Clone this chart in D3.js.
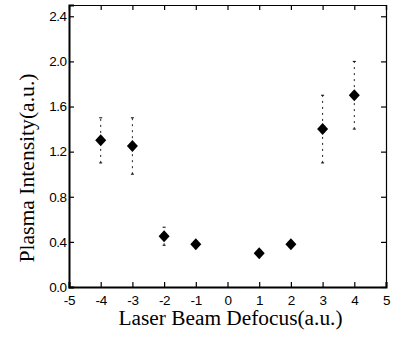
<!DOCTYPE html>
<html><head><meta charset="utf-8">
<script src="https://cdn.jsdelivr.net/npm/d3@7"></script>
<style>body{margin:0;background:#fff}svg{display:block}</style>
</head><body>
<script>
const xVals = [-4, -3, -2, -1, 1, 2, 3, 4];
const yVals = [1.30, 1.25, 0.45, 0.38, 0.30, 0.38, 1.40, 1.70];
const errLow = [1.10, 1.00, 0.37, 0.35, 0.27, 0.35, 1.10, 1.40];
const errHigh = [1.50, 1.50, 0.53, 0.41, 0.33, 0.41, 1.70, 2.00];
const xTicks = [-5, -4, -3, -2, -1, 0, 1, 2, 3, 4, 5];
const yTicks = [0.0, 0.4, 0.8, 1.2, 1.6, 2.0, 2.4];
const xTitle = "Laser Beam Defocus(a.u.)";
const yTitle = "Plasma Intensity(a.u.)";

const W = 395, H = 338;
const m = {left: 69, right: 386, top: 5, bottom: 287};
const svg = d3.select("body").append("svg").attr("width", W).attr("height", H);
const x = d3.scaleLinear().domain([-5, 5]).range([m.left, m.right]);
const y = d3.scaleLinear().domain([0, 2.5]).range([m.bottom, m.top]);

const fmtY = d => d.toFixed(1);
const fmtX = d => String(d).replace("\u2212", "-");
const gB = svg.append("g").attr("transform", `translate(0,${m.bottom})`)
  .call(d3.axisBottom(x).tickValues(xTicks).tickSize(-5).tickPadding(8).tickFormat(fmtX));
const gT = svg.append("g").attr("transform", `translate(0,${m.top})`)
  .call(d3.axisTop(x).tickValues(xTicks).tickSize(-5).tickFormat(""));
const gL = svg.append("g").attr("transform", `translate(${m.left},0)`)
  .call(d3.axisLeft(y).tickValues(yTicks).tickSize(-5).tickPadding(3).tickFormat(fmtY));
const gR = svg.append("g").attr("transform", `translate(${m.right},0)`)
  .call(d3.axisRight(y).tickValues(yTicks).tickSize(-5).tickFormat(""));
[gB, gT, gL, gR].forEach(g => {
  g.selectAll("text").attr("font-family", "Liberation Sans, Arial, sans-serif").attr("font-size", 13.5).attr("fill", "#000");
  g.selectAll("line").attr("stroke", "#000").attr("stroke-width", 1.2);
});
gL.selectAll("text").attr("x", -2.5).attr("letter-spacing", -0.5);
gB.selectAll("text").attr("letter-spacing", -0.3);
gT.select(".domain").attr("stroke-width", 1.2);
gR.select(".domain").attr("stroke-width", 1.2);
gB.select(".domain").attr("stroke-width", 2);
gL.select(".domain").attr("stroke-width", 2);

const eb = svg.append("g");
xVals.forEach((xv, i) => {
  eb.append("line").attr("x1", x(xv)).attr("x2", x(xv))
    .attr("y1", y(errLow[i])).attr("y2", y(errHigh[i]))
    .attr("stroke", "#222").attr("stroke-width", 1).attr("stroke-dasharray", "2,4");
  [errLow[i], errHigh[i]].forEach(v => {
    eb.append("line").attr("x1", x(xv) - 1.5).attr("x2", x(xv) + 1.5)
      .attr("y1", y(v)).attr("y2", y(v)).attr("stroke", "#000").attr("stroke-width", 1);
  });
});

svg.append("g").selectAll("path").data(xVals).join("path")
  .attr("d", (d, i) => {
    const cx = x(d), cy = y(yVals[i]);
    return `M${cx},${cy - 6}L${cx + 5.5},${cy}L${cx},${cy + 6}L${cx - 5.5},${cy}Z`;
  })
  .attr("fill", "#000");

svg.append("text").attr("x", (m.left + m.right) / 2 + 3).attr("y", 325)
  .attr("text-anchor", "middle").attr("font-family", "Liberation Serif, Times New Roman, serif")
  .attr("font-size", 20).attr("textLength", 224).attr("lengthAdjust", "spacingAndGlyphs")
  .text(xTitle);
svg.append("text").attr("transform", `translate(34,${168}) rotate(-90)`)
  .attr("text-anchor", "middle").attr("font-family", "Liberation Serif, Times New Roman, serif")
  .attr("font-size", 20).attr("textLength", 189).attr("lengthAdjust", "spacingAndGlyphs")
  .text(yTitle);
</script>
</body></html>
